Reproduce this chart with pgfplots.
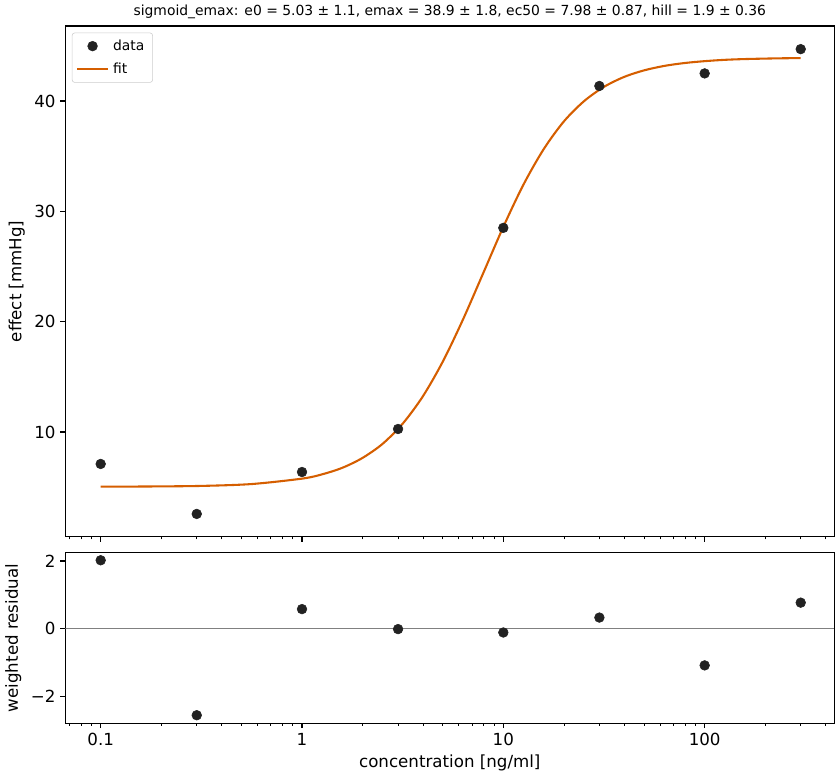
\documentclass[border=0pt]{standalone}
\usepackage{fontspec}
\setmainfont{DejaVu Sans}
\usepackage{pgfplots}
\pgfplotsset{compat=1.18}
\definecolor{fitorange}{HTML}{D55E00}
\definecolor{dotblack}{HTML}{222222}

\pgfplotsset{
  panel/.style={
    scale only axis,
    width=553.7pt,
    xmin=0.0667, xmax=440.6,
    tick align=outside,
    xtick pos=bottom, ytick pos=left,
    xtick={0.1,1,10,100},
    minor xtick={0.07,0.08,0.09,0.2,0.3,0.4,0.5,0.6,0.7,0.8,0.9,2,3,4,5,6,7,8,9,20,30,40,50,60,70,80,90,200,300,400},
    major tick length=3.5pt, minor tick length=2pt,
    every tick/.style={black, line width=0.8pt},
    every minor tick/.style={black, line width=0.6pt},
    axis line style={line width=0.8pt},
    tick label style={font=\fontsize{12}{14}\selectfont},
    label style={font=\fontsize{12}{14}\selectfont},
    /pgf/number format/assume math mode=true,
  },
  dotlegend/.style={legend image code/.code={%
    \draw[mark repeat=2,mark phase=2,##1] plot coordinates {(0pt,0pt) (11pt,0pt) (22pt,0pt)};}},
  linelegend/.style={legend image code/.code={%
    \draw[##1] (0pt,0pt) -- (22pt,0pt);}},
}

\begin{document}
\begin{tikzpicture}
\begin{semilogxaxis}[panel, name=main,
  height=367.7pt,
  ymin=0.51, ymax=46.8,
  ytick={10,20,30,40},
  xticklabels={},
  ylabel={effect [mmHg]},
  title={sigmoid\_emax: e0 = 5.03 ± 1.1, emax = 38.9 ± 1.8, ec50 = 7.98 ± 0.87, hill = 1.9 ± 0.36},
  title style={font=\fontsize{10}{12}\selectfont, yshift=-4pt},
  legend cell align=left,
  legend style={font=\fontsize{10}{12}\selectfont, draw=black!20, rounded corners=2pt,
    inner xsep=3pt, inner ysep=3pt, row sep=3.5pt,
    nodes={inner xsep=3pt},
    at={(0.0085,0.987)}, anchor=north west},
]
\addplot[only marks, mark=*, mark size=3.5pt, dotblack, dotlegend] coordinates {
  (0.1,7.10) (0.3,2.57) (1,6.37) (3,10.27) (10,28.5) (30,41.36) (100,42.5) (300,44.7)
};
\addlegendentry{data}
\addplot[fitorange, line width=1.5pt, smooth, linelegend] coordinates {
  (0.1,5.04) (0.1778,5.06) (0.3162,5.11) (0.5623,5.28) (1,5.77) (1.2589,6.16)
  (1.5849,6.75) (1.9953,7.64) (2.5119,8.92) (3.1623,10.75) (3.9811,13.22)
  (5.0119,16.40) (6.3096,20.21) (7.9433,24.39) (10,28.59) (12.589,32.42)
  (15.849,35.62) (19.953,38.13) (25.119,39.97) (31.623,41.28) (39.811,42.18)
  (50.119,42.78) (63.096,43.18) (79.433,43.44) (100,43.61) (125.89,43.73)
  (158.49,43.80) (223.87,43.86) (300,43.89)
};
\addlegendentry{fit}
\end{semilogxaxis}
\begin{semilogxaxis}[panel,
  at={(main.south west)}, anchor=north west, yshift=-11.5pt,
  height=122.8pt,
  ymin=-2.785, ymax=2.245,
  ytick={-2,0,2}, yticklabels={−2,0,2},
  xticklabels={0.1,1,10,100},
  xlabel={concentration [ng/ml]},
  ylabel={weighted residual},
]
\addplot[black!50, line width=1pt, forget plot] coordinates {(0.0667,0) (440.6,0)};
\addplot[only marks, mark=*, mark size=3.5pt, dotblack] coordinates {
  (0.1,2.02) (0.3,-2.55) (1,0.58) (3,-0.01) (10,-0.11) (30,0.33) (100,-1.08) (300,0.77)
};
\end{semilogxaxis}
\pgfresetboundingbox
\path ([shift={(-47.0pt,18.7pt)}]main.north west) rectangle ([shift={(557.8pt,-542.9pt)}]main.north west);
\end{tikzpicture}
\end{document}
